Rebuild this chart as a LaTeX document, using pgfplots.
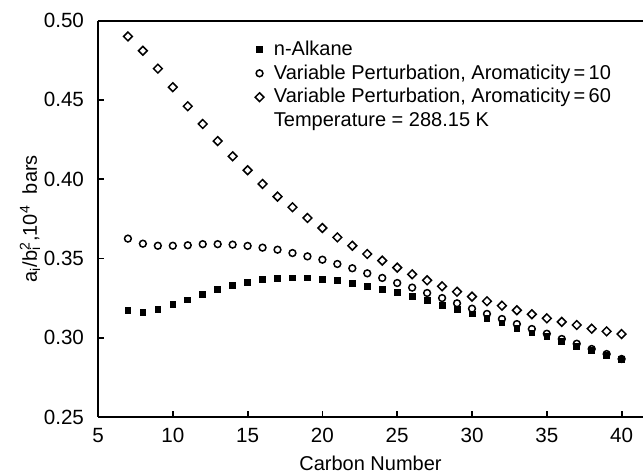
\documentclass[border=0pt]{standalone}
\usepackage{pgfplots}
\pgfplotsset{compat=1.18}
\usepackage{fontspec}
\setmainfont{Liberation Sans}
\begin{document}
\fontsize{10}{12}\selectfont
\begin{tikzpicture}
\begin{axis}[
  scale only axis,
  width=272.5pt, height=198.2pt,
  xmin=5, xmax=41.43, ymin=0.25, ymax=0.50,
  axis x line=box, axis y line=left,
  axis line style={-, line width=1pt},
  xtick={5,10,...,40}, ytick={0.25,0.30,...,0.50},
  xtick pos=left, ytick pos=left,
  tick align=inside, major tick length=3pt,
  tick style={line width=0.9pt, black},
  /pgf/number format/assume math mode=true,
  yticklabel style={xshift=-3.5pt, /pgf/number format/fixed, /pgf/number format/fixed zerofill, /pgf/number format/precision=2},
  ticklabel style={font=\fontsize{10.3}{12}\selectfont},
  xticklabel style={yshift=-2pt},
  xlabel={Carbon Number},
  ylabel={a\textsubscript{i}/b\rlap{\textsubscript{i}}\textsuperscript{2},10\textsuperscript{4}\ \ bars},
  xlabel style={at={(axis description cs:0.5,0)}, anchor=center, yshift=-23pt},
  ylabel style={at={(axis description cs:-0.125,0.5)}, anchor=center},
  label style={font=\fontsize{10}{12}\selectfont},
  legend style={at={(axis description cs:0.27,0.968)}, anchor=north west, draw=none, fill=none,
    font=\fontsize{10}{12}\selectfont, row sep=0.2pt, column sep=3.5pt,
    nodes={inner sep=1.5pt}},
  legend cell align=left,
  legend image code/.code={\draw[#1] plot coordinates {(4pt,0pt)};},
  clip=false,
]
\addplot[only marks, mark=square*, mark size=1.45pt, black] coordinates {
(7,0.3170) (8,0.3162) (9,0.3180) (10,0.3208) (11,0.3238) (12,0.3274) (13,0.3303)
(14,0.3328) (15,0.3351) (16,0.3366) (17,0.3375) (18,0.3377) (19,0.3377) (20,0.3370)
(21,0.3360) (22,0.3345) (23,0.3326) (24,0.3307) (25,0.3286) (26,0.3261) (27,0.3236)
(28,0.3206) (29,0.3179) (30,0.3150) (31,0.3124) (32,0.3093) (33,0.3061) (34,0.3030)
(35,0.3006) (36,0.2977) (37,0.2946) (38,0.2920) (39,0.2889) (40,0.2861)};
\addlegendentry{n-Alkane}
\addplot[only marks, mark=o, mark size=1.7pt, black, mark options={line width=0.75pt}] coordinates {
(7,0.3625) (8,0.3593) (9,0.3580) (10,0.3580) (11,0.3583) (12,0.3590) (13,0.3590)
(14,0.3587) (15,0.3579) (16,0.3568) (17,0.3555) (18,0.3534) (19,0.3513) (20,0.3492)
(21,0.3465) (22,0.3438) (23,0.3406) (24,0.3377) (25,0.3345) (26,0.3316) (27,0.3282)
(28,0.3250) (29,0.3217) (30,0.3183) (31,0.3150) (32,0.3118) (33,0.3086) (34,0.3055)
(35,0.3025) (36,0.2992) (37,0.2962) (38,0.2929) (39,0.2897) (40,0.2866)};
\addlegendentry{Variable Perturbation, Aromaticity\,=\,10}
\addplot[only marks, mark=square, mark size=1.55pt, black, mark options={rotate=45, line width=0.75pt}] coordinates {
(7,0.4900) (8,0.4810) (9,0.4697) (10,0.4580) (11,0.4460) (12,0.4348) (13,0.4240)
(14,0.4144) (15,0.4056) (16,0.3970) (17,0.3890) (18,0.3823) (19,0.3755) (20,0.3692)
(21,0.3633) (22,0.3580) (23,0.3528) (24,0.3486) (25,0.3442) (26,0.3400) (27,0.3362)
(28,0.3324) (29,0.3290) (30,0.3259) (31,0.3230) (32,0.3202) (33,0.3173) (34,0.3148)
(35,0.3122) (36,0.3100) (37,0.3080) (38,0.3057) (39,0.3040) (40,0.3023)};
\addlegendentry{Variable Perturbation, Aromaticity\,=\,60}
\addlegendimage{empty legend}
\addlegendentry{Temperature = 288.15 K}
\coordinate (SW) at (rel axis cs:0,0);
\end{axis}
\pgfresetboundingbox
\path (SW) ++(-49pt,-28.5pt) rectangle ++(321.5pt,237pt);
\end{tikzpicture}
\end{document}
